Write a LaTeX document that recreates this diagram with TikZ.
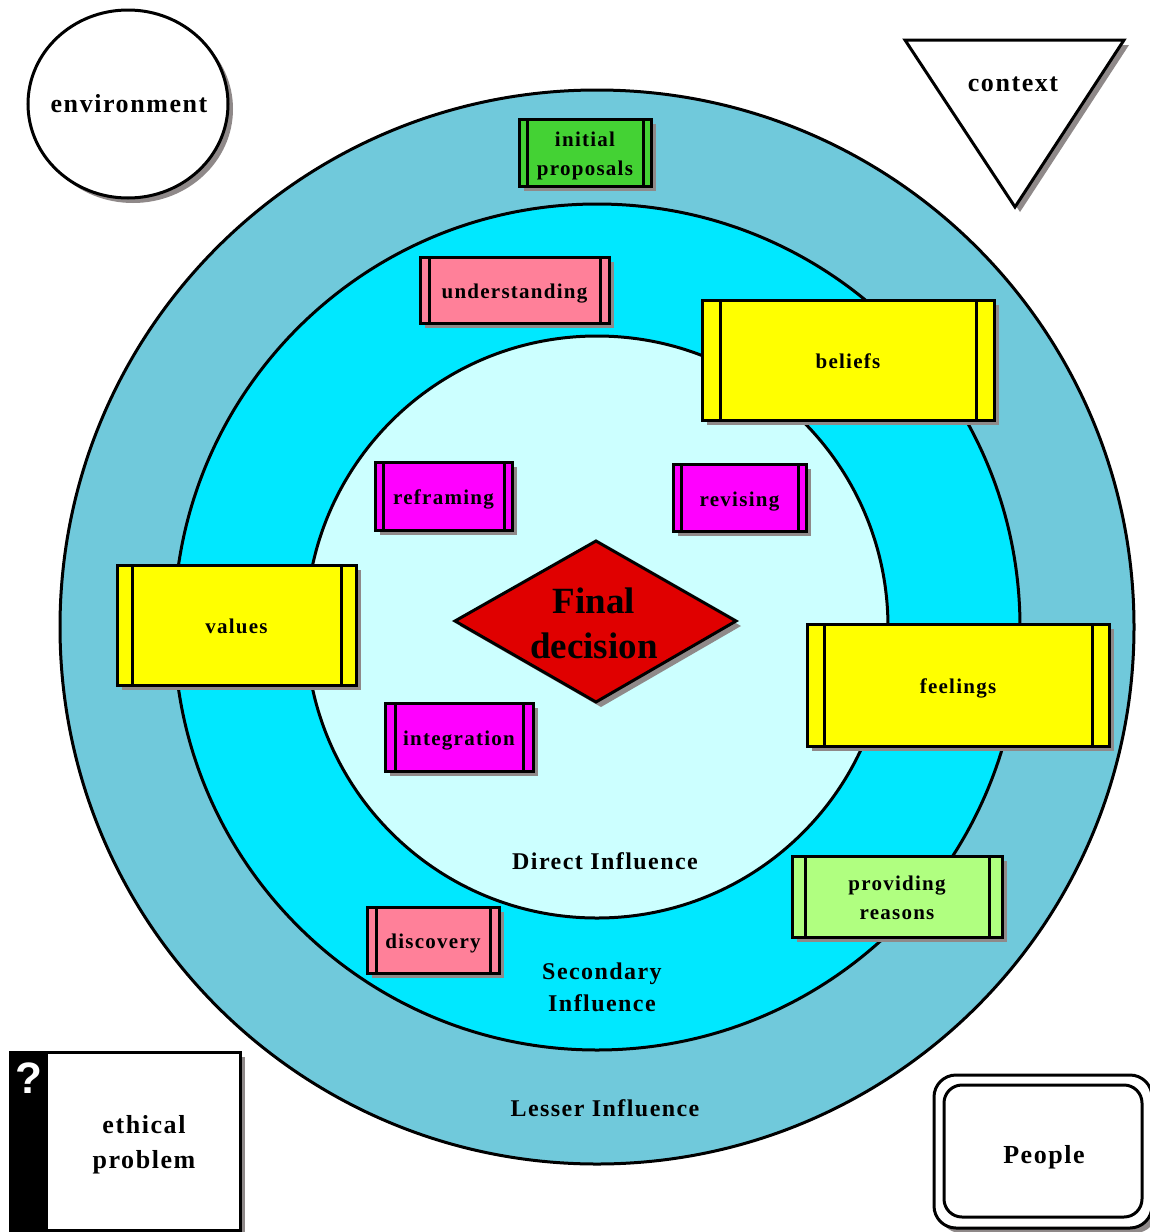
\documentclass[tikz,border=0pt]{standalone}
\usepackage{fontspec}
\setmainfont{Liberation Serif}[LetterSpace=6]
\newfontfamily\plainserif{Liberation Serif}
\newfontfamily\qfont{Liberation Sans}
\usetikzlibrary{shadows}
\definecolor{ringA}{RGB}{112,201,219}
\definecolor{ringB}{RGB}{0,232,255}
\definecolor{ringC}{RGB}{204,255,255}
\definecolor{shadowc}{RGB}{143,137,137}
\definecolor{gbox}{RGB}{68,210,52}
\definecolor{pbox}{RGB}{255,128,153}
\definecolor{ybox}{RGB}{255,255,0}
\definecolor{mbox}{RGB}{255,0,255}
\definecolor{lgbox}{RGB}{176,255,128}
\definecolor{redd}{RGB}{224,0,0}
\tikzset{
  dropsh/.style={drop shadow={shadow xshift=5pt,shadow yshift=-5pt,fill=shadowc,opacity=1}},
  box/.style={rectangle, draw, line width=3pt, inner sep=0pt, align=center, dropsh,
    text height=19pt, text depth=2pt,
    font=\fontsize{21}{29}\selectfont\bfseries,
    path picture={\draw[line width=3pt]
      ([xshift=#1]path picture bounding box.north west) -- ([xshift=#1]path picture bounding box.south west)
      ([xshift=-#1]path picture bounding box.north east) -- ([xshift=-#1]path picture bounding box.south east);}},
  twoline/.style={text height=48pt},
  bigtext/.style={font=\fontsize{26}{35}\selectfont\bfseries, align=center},
  inftext/.style={font=\fontsize{24}{32}\selectfont\bfseries, align=center},
}
\begin{document}
\begin{tikzpicture}[x=1pt,y=-1pt]
\useasboundingbox[fill=white] (0,0) rectangle (1149,1232);
% rings
\filldraw[fill=ringA, line width=3pt] (597,627) circle[radius=537pt];
\filldraw[fill=ringB, line width=3pt] (597,627) circle[radius=423pt];
\filldraw[fill=ringC, line width=3pt] (597,627) circle[radius=291pt];
% environment
\fill[shadowc] (133,109) ellipse[x radius=100pt, y radius=94pt];
\filldraw[fill=white, line width=3pt] (128,104) ellipse[x radius=100pt, y radius=94pt];
\node[bigtext] (env) at (129,104) {environment};
% context
\fill[shadowc] (910,45) -- (1129,45) -- (1020,212) -- cycle;
\filldraw[fill=white, line width=3pt] (905,40) -- (1124,40) -- (1015,207) -- cycle;
\node[bigtext] (ctx) at (1013,84) {context};
% boxes
\node[box=8pt, twoline, fill=gbox, minimum width=132pt, minimum height=67pt] (init) at (585,152.5) {initial\\proposals};
\node[box=9pt, fill=pbox, minimum width=189pt, minimum height=66pt] (und) at (514.5,290) {understanding};
\node[box=18pt, fill=ybox, minimum width=292pt, minimum height=120pt] (bel) at (848,360) {beliefs};
\node[box=8pt, fill=mbox, minimum width=137pt, minimum height=68pt] (refr) at (443.5,496) {reframing};
\node[box=8pt, fill=mbox, minimum width=133pt, minimum height=67pt] (rev) at (739.5,497.5) {revising};
\node[box=15pt, fill=ybox, minimum width=239pt, minimum height=120pt] (val) at (236.5,625) {values};
\node[box=17pt, fill=ybox, minimum width=302pt, minimum height=122pt] (feel) at (958,685) {feelings};
\node[box=10pt, fill=mbox, minimum width=148pt, minimum height=68pt] (integ) at (459,737) {integration};
\node[box=13pt, twoline, fill=lgbox, minimum width=210pt, minimum height=81pt] (prov) at (897,896.5) {providing\\reasons};
\node[box=9pt, fill=pbox, minimum width=132pt, minimum height=66pt] (disc) at (433,940) {discovery};
% final decision
\fill[shadowc] (460,626) -- (601,546) -- (741,626) -- (601,707) -- cycle;
\filldraw[fill=redd, line width=3pt] (455,621) -- (596,541) -- (736,621) -- (596,702) -- cycle;
\node[font=\plainserif\fontsize{37}{45}\selectfont\bfseries, align=center] (fin) at (594,623) {Final\\decision};
% influence labels
\node[inftext] (dir) at (605,861) {Direct Influence};
\node[inftext] (sec) at (602,987) {Secondary\\Influence};
\node[inftext] (less) at (605,1108) {Lesser Influence};
% ethical problem
\node[draw, fill=white, line width=3pt, minimum width=230pt, minimum height=178pt, inner sep=0pt, dropsh] (eth) at (125,1141) {};
\fill[black] (eth.north west) rectangle (48,1230);
\node[text=white, font=\qfont\fontsize{44}{44}\selectfont\bfseries] (qm) at (29,1078) {?};
\node[bigtext] (ethtxt) at (144,1145) {ethical\\problem};
% people
\node[draw, fill=white, line width=3pt, rounded corners=22pt, minimum width=218pt, minimum height=153pt, inner sep=0pt, dropsh] (peo) at (1043,1151.5) {};
\node[draw, line width=3pt, rounded corners=18pt, minimum width=198pt, minimum height=132pt, inner sep=0pt] (peoin) at (1043,1151) {};
\node[bigtext] (peotxt) at (1044,1157) {People};
\end{tikzpicture}
\end{document}
